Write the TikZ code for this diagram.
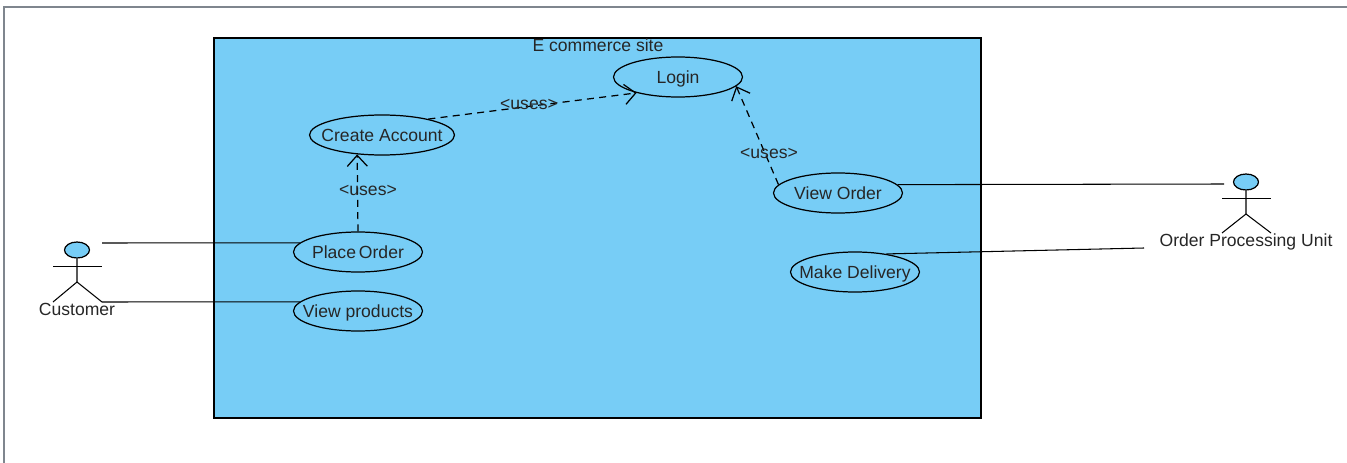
\documentclass[tikz,border=0pt]{standalone}
\usepackage{fontspec}
\setmainfont{Liberation Sans}
\usetikzlibrary{shapes.geometric, arrows.meta}
\definecolor{sitecolor}{HTML}{77CDF6}
\definecolor{framecolor}{HTML}{7F868E}

\begin{document}
\begin{tikzpicture}
                        [
                            x=0.02cm, y=-0.02cm,
                            font=\fontsize{10}{12}\selectfont, text=black!85,
                            boundary/.style = {draw, shape=rectangle, minimum height=7.6cm, minimum width=15.34cm, line width=0.7pt, fill=sitecolor},
                            usecase/.style = {draw, shape=ellipse, minimum height=0.8cm, minimum width=2.58cm, inner xsep=-0.3cm, inner ysep=0pt, text height=9.2pt, text depth=2pt, line width=0.7pt},
                            head/.style = {draw, shape=ellipse, minimum height=0.32cm, minimum width=0.5cm, inner sep=0pt, line width=0.7pt, fill=sitecolor},
                            limb/.style = {line width=0.6pt},
                            thinlimb/.style = {line width=0.45pt},
                            assoc/.style = {line width=0.6pt},
                            uses/.style = {line width=0.7pt, dash pattern=on 4pt off 3pt, -{Straight Barb[length=2.2mm,width=4mm]}},
                            label/.style = {inner sep=0pt},
                        ]

                        \useasboundingbox (0,0) rectangle (1347,463);
                        \draw[framecolor, line width=1.1pt] (4,463) -- (4,7) -- (1347,7);

                        \node[boundary] (site) at (597.5,228) {};
                        \node[label] (sitename) at (598,45) {E commerce site};

                        \node[usecase] (login) at (678,77) {Login};
                        \node[usecase, minimum width=2.9cm] (create) at (382,135) {Create Account};
                        \node[usecase] (place) at (358,252) {Place\,Order};
                        \node[usecase] (products) at (358,311) {View products};
                        \node[usecase] (vieworder) at (838,193) {View Order};
                        \node[usecase] (delivery) at (855,272) {Make Delivery};

                        \node[head] (custhead) at (77,250) {};
                        \coordinate (custneck) at (77,282);
                        \coordinate (custarml) at (53,266);
                        \coordinate (custarmr) at (102,266);
                        \coordinate (custlegl) at (53,302);
                        \coordinate (custlegr) at (102,302);
                        \coordinate (custtop) at (102,243);
                        \node[label] (customer) at (77,309) {Customer};
                        \draw[limb] (custhead) -- (custneck) -- (custlegl);
                        \draw[limb] (custneck) -- (custlegr);
                        \draw[thinlimb] (custarml) -- (custarmr);

                        \node[head] (unithead) at (1246,182) {};
                        \coordinate (unitneck) at (1246,214);
                        \coordinate (unitarml) at (1222,198);
                        \coordinate (unitarmr) at (1271,198);
                        \coordinate (unitlegl) at (1222,233);
                        \coordinate (unitlegr) at (1271,233);
                        \coordinate (unittop) at (1224,184);
                        \coordinate (unitleft) at (1144,248);
                        \node[label] (unit) at (1246,242) {Order Processing Unit};
                        \draw[limb] (unithead) -- (unitneck) -- (unitlegl);
                        \draw[limb] (unitneck) -- (unitlegr);
                        \draw[thinlimb] (unitarml) -- (unitarmr);

                        \draw[assoc] (custtop) -- (place.171);
                        \draw[assoc] (custlegr) -- (products.171);
                        \draw[assoc] (vieworder.8) -- (unittop);
                        \draw[assoc] (delivery.30) -- (unitleft);

                        \draw[uses] (place.north) -- (create.218);
                        \draw[uses] (create.19) -- (login.201);
                        \draw[uses] (vieworder.172) -- (login.351);

                        \node[label] (uses1) at (368,190) {<uses>};
                        \node[label] (uses2) at (529,104) {<uses>};
                        \node[label] (uses3) at (769,153) {<uses>};
                    \end{tikzpicture}
\end{document}
